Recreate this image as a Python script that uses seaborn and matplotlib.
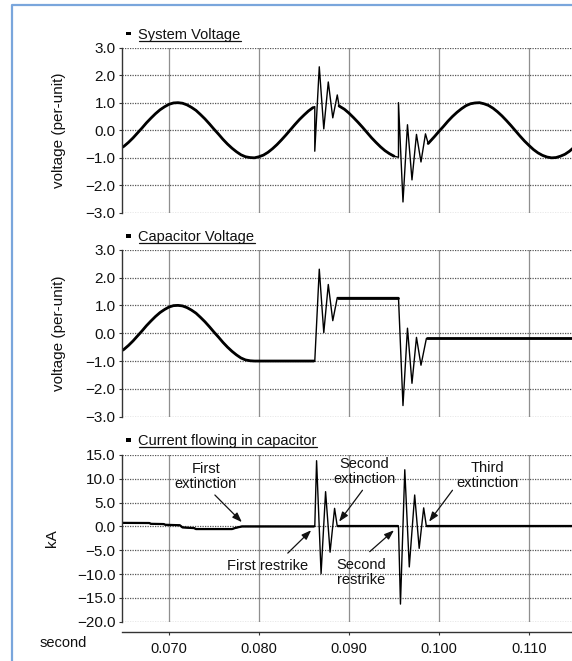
import numpy as np
import pandas as pd
import matplotlib
matplotlib.use("Agg")
import matplotlib.pyplot as plt
import seaborn as sns
from matplotlib.lines import Line2D
from matplotlib.patches import Rectangle
from matplotlib.ticker import FuncFormatter

# ---------------- waveform samples (time in s) ----------------
sys_t = [0.0648, 0.0650, 0.0655, 0.0660, 0.0665, 0.0670, 0.0675, 0.0680, 0.0685, 0.0690,
         0.0695, 0.0700, 0.0705, 0.0710, 0.0715, 0.0720, 0.0725, 0.0730, 0.0735, 0.0740,
         0.0745, 0.0750, 0.0755, 0.0760, 0.0765, 0.0770, 0.0775, 0.0780, 0.0785, 0.0790,
         0.0795, 0.0800, 0.0805, 0.0810, 0.0815, 0.0820, 0.0825, 0.0830, 0.0835, 0.0840,
         0.0845, 0.0850, 0.0855, 0.0860, 0.0862,
         0.0862, 0.0867, 0.0872, 0.0877, 0.0882, 0.0887, 0.0889,
         0.0895, 0.0900, 0.0905, 0.0910, 0.0915, 0.0920, 0.0925, 0.0930, 0.0935, 0.0940,
         0.0945, 0.0950, 0.0955,
         0.0955, 0.0960, 0.0965, 0.0970, 0.0975, 0.0980, 0.0985, 0.0988,
         0.0995, 0.1000, 0.1005, 0.1010, 0.1015, 0.1020, 0.1025, 0.1030, 0.1035, 0.1040,
         0.1045, 0.1050, 0.1055, 0.1060, 0.1065, 0.1070, 0.1075, 0.1080, 0.1085, 0.1090,
         0.1095, 0.1100, 0.1105, 0.1110, 0.1115, 0.1120, 0.1125, 0.1130, 0.1135, 0.1140,
         0.1145, 0.1150]
sys_v = [-0.62, -0.58, -0.44, -0.28, -0.10, 0.08, 0.27, 0.44, 0.60, 0.74,
         0.85, 0.94, 0.99, 1.00, 0.98, 0.92, 0.83, 0.72, 0.57, 0.41,
         0.23, 0.04, -0.14, -0.33, -0.50, -0.65, -0.78, -0.89, -0.96, -0.99,
         -1.00, -0.96, -0.90, -0.80, -0.67, -0.52, -0.35, -0.17, 0.02, 0.21,
         0.39, 0.55, 0.70, 0.82, 0.86,
         -0.76, 2.30, 0.05, 1.75, 0.45, 1.28, 0.88,
         0.76, 0.62, 0.46, 0.29, 0.11, -0.08, -0.27, -0.44, -0.60, -0.74,
         -0.85, -0.94, -0.98,
         1.00, -2.60, 0.20, -1.80, -0.15, -1.15, -0.13, -0.48,
         -0.23, -0.04, 0.14, 0.33, 0.50, 0.65, 0.78, 0.89, 0.96, 0.99,
         1.00, 0.96, 0.90, 0.80, 0.67, 0.52, 0.35, 0.17, -0.02, -0.21,
         -0.39, -0.55, -0.70, -0.82, -0.91, -0.97, -1.00, -0.99, -0.94, -0.87,
         -0.76, -0.62]

cap_t = [0.0648, 0.0650, 0.0655, 0.0660, 0.0665, 0.0670, 0.0675, 0.0680, 0.0685, 0.0690,
         0.0695, 0.0700, 0.0705, 0.0710, 0.0715, 0.0720, 0.0725, 0.0730, 0.0735, 0.0740,
         0.0745, 0.0750, 0.0755, 0.0760, 0.0765, 0.0770, 0.0775, 0.0780, 0.0785, 0.0790,
         0.0795, 0.0861, 0.0862,
         0.0867, 0.0872, 0.0877, 0.0882, 0.0887, 0.0888, 0.0954, 0.0955,
         0.0960, 0.0965, 0.0970, 0.0975, 0.0980, 0.0986, 0.0987, 0.1150]
cap_v = [-0.62, -0.58, -0.44, -0.28, -0.10, 0.08, 0.27, 0.44, 0.60, 0.74,
         0.85, 0.94, 0.99, 1.00, 0.98, 0.92, 0.83, 0.72, 0.57, 0.41,
         0.23, 0.04, -0.14, -0.33, -0.50, -0.65, -0.78, -0.89, -0.96, -0.99,
         -1.00, -1.00, -1.00,
         2.30, 0.02, 1.75, 0.45, 1.28, 1.28, 1.28, 1.28,
         -2.60, 0.18, -1.80, -0.15, -1.15, -0.19, -0.19, -0.19]

cur_t = [0.0648, 0.0678, 0.0680, 0.0694, 0.0696, 0.0712, 0.0715, 0.0728, 0.0730, 0.0770,
         0.0774, 0.0781, 0.0861, 0.0862, 0.0864, 0.0869, 0.0874, 0.0879, 0.0884, 0.0887,
         0.0888, 0.0954, 0.0955, 0.09572, 0.0962, 0.0967, 0.0973, 0.0978, 0.0983, 0.0986,
         0.0987, 0.1150]
cur_i = [0.75, 0.72, 0.55, 0.50, 0.35, 0.25, -0.20, -0.35, -0.55, -0.55,
         -0.30, 0.00, 0.00, 0.00, 13.8, -9.9, 7.3, -5.4, 3.8, 0.00,
         0.00, 0.00, 0.00, -16.3, 11.9, -8.5, 6.6, -4.6, 3.9, 0.00,
         0.00, 0.00]

# restrike bursts (start, end) for each trace
sys_bursts = [(0.0862, 0.0888), (0.0955, 0.0987)]
cap_bursts = [(0.0862, 0.0887), (0.0955, 0.0986)]
cur_bursts = [(0.0862, 0.0887), (0.0955, 0.0986)]

x_ticks = [0.070, 0.080, 0.090, 0.100, 0.110]
x_tick_labels = ["0.070", "0.080", "0.090", "0.100", "0.110"]
volt_ticks = [-3.0, -2.0, -1.0, 0.0, 1.0, 2.0, 3.0]
amp_ticks = [-20.0, -15.0, -10.0, -5.0, 0.0, 5.0, 10.0, 15.0]

panel_titles = ["System Voltage", "Capacitor Voltage", "Current flowing in capacitor"]
volt_label = "voltage (per-unit)"
amp_label = "kA"
time_label = "second"

# (text, text position, arrow start, arrow tip)
notes = [
    ("First\nextinction", (0.0741, 10.4), (0.0751, 6.6), (0.0781, 0.9)),
    ("Second\nextinction", (0.0917, 11.6), (0.0915, 7.6), (0.0889, 1.0)),
    ("First restrike", (0.0809, -8.3), (0.0832, -5.6), (0.0858, -0.8)),
    ("Second\nrestrike", (0.0914, -9.6), (0.0923, -5.3), (0.0950, -0.8)),
    ("Third\nextinction", (0.1054, 10.7), (0.1015, 7.6), (0.0989, 1.0)),
]

# ---------------- styling ----------------
sns.set_theme(style="white")
plt.rcParams["font.family"] = ["Liberation Sans", "DejaVu Sans"]
plt.rcParams["font.size"] = 10.5

W, H = 572, 661
fig = plt.figure(figsize=(W / 100, H / 100), dpi=100)
fig.patch.set_facecolor("white")


def px_box(left, top, right, bottom):
    return [left / W, 1 - bottom / H, (right - left) / W, (bottom - top) / H]


ax_sys = fig.add_axes(px_box(122, 47.5, 572, 213))
ax_cap = fig.add_axes(px_box(122, 249.7, 572, 416.7))
ax_cur = fig.add_axes(px_box(122, 455, 572, 621.7))


def draw_trace(ax, t, y, bursts, thin_lw, thick_lw):
    df = pd.DataFrame({"t": t, "y": y})
    sns.lineplot(data=df, x="t", y="y", ax=ax, estimator=None, sort=False,
                 color="black", lw=thin_lw)
    tt = df["t"].to_numpy()
    quiet = np.ones(len(tt), dtype=bool)
    seg = np.zeros(len(tt), dtype=int)
    for lo, hi in bursts:
        quiet &= ~((tt >= lo) & (tt <= hi))
        seg += (tt > hi).astype(int)
    steady = df[quiet].assign(seg=seg[quiet])
    sns.lineplot(data=steady, x="t", y="y", units="seg", estimator=None, sort=False,
                 color="black", lw=thick_lw, ax=ax)


draw_trace(ax_sys, sys_t, sys_v, sys_bursts, 1.0, 2.0)
draw_trace(ax_cap, cap_t, cap_v, cap_bursts, 1.0, 2.0)
draw_trace(ax_cur, cur_t, cur_i, cur_bursts, 1.0, 1.6)

minus_fmt = FuncFormatter(lambda v, _: f"{v:.1f}".replace("-", "\u2212"))

for ax, ticks, lims in [(ax_sys, volt_ticks, (-3, 3)),
                        (ax_cap, volt_ticks, (-3, 3)),
                        (ax_cur, amp_ticks, (-20, 15))]:
    ax.set_xlim(0.06478, 0.11478)
    ax.set_ylim(*lims)
    ax.set_xticks(x_ticks)
    ax.set_yticks(ticks)
    ax.yaxis.set_major_formatter(minus_fmt)
    ax.set_facecolor("white")
    ax.grid(False)
    ax.xaxis.grid(True, color="#8f8f8f", lw=0.9, ls="-")
    ax.yaxis.grid(True, color="#555555", lw=0.9, ls=(0, (1.0, 1.0)))
    ax.set_axisbelow(True)
    for s in ["top", "right", "bottom"]:
        ax.spines[s].set_visible(False)
    ax.spines["left"].set_color("#333333")
    ax.spines["left"].set_linewidth(1.0)
    ax.tick_params(axis="y", left=True, direction="out", length=2.5, width=0.8,
                   pad=2, labelsize=11, color="#333333", labelcolor="#111111")
    ax.set_xlabel("")

for ax in (ax_sys, ax_cap):
    ax.tick_params(axis="x", bottom=False, labelbottom=False)
    ax.set_ylabel(volt_label, fontsize=11, color="#111111")
    ax.yaxis.set_label_coords(-0.124, 0.5)

ax_cur.set_ylabel(amp_label, fontsize=11, color="#111111")
ax_cur.yaxis.set_label_coords(-0.14, 0.5)
ax_cur.spines["bottom"].set_visible(True)
ax_cur.spines["bottom"].set_position(("outward", 7.4))
ax_cur.spines["bottom"].set_color("#333333")
ax_cur.spines["bottom"].set_linewidth(1.0)
ax_cur.set_xticklabels(x_tick_labels)
ax_cur.tick_params(axis="x", bottom=True, direction="out", length=2.5, width=0.8,
                   pad=4.5, labelsize=10.5, color="#333333", labelcolor="#111111")

for text, txy, start, tip in notes:
    ax_cur.text(txy[0], txy[1], text, ha="center", va="center", fontsize=10.5,
                multialignment="center", linespacing=1.1, color="#111111")
    ax_cur.annotate("", xy=tip, xytext=start,
                    arrowprops=dict(arrowstyle="-|>,head_length=0.55,head_width=0.2",
                                    color="#111111", lw=0.9, shrinkA=0, shrinkB=0))

fig.text(40 / W, 1 - 643 / H, time_label, ha="left", va="center", fontsize=10.5,
         color="#111111")

# panel headings: small square marker + underlined text
title_texts = []
for title, base in zip(panel_titles, [38.5, 241.0, 445.0]):
    txt = fig.text(138.5 / W, 1 - base / H, title, ha="left", va="baseline",
                   fontsize=10.5, color="#111111")
    title_texts.append((txt, base))
    fig.add_artist(Rectangle((126 / W, 1 - (base - 3.2) / H), 4.8 / W, 3.4 / H,
                             transform=fig.transFigure, color="black", lw=0))

fig.canvas.draw()
renderer = fig.canvas.get_renderer()
for txt, base in title_texts:
    bb = txt.get_window_extent(renderer)
    yline = 1 - (base + 2.3) / H
    fig.add_artist(Line2D([bb.x0 / W, bb.x1 / W], [yline, yline],
                          transform=fig.transFigure, color="#111111", lw=0.9))

# light blue frame along the left and top edges
fig.add_artist(Line2D([12 / W, 12 / W, 1.0], [0.0, 1 - 5.3 / H, 1 - 5.3 / H],
                      transform=fig.transFigure, color="#7aa6dc", lw=1.6))

fig.savefig("out.png", dpi=100, facecolor="white")
